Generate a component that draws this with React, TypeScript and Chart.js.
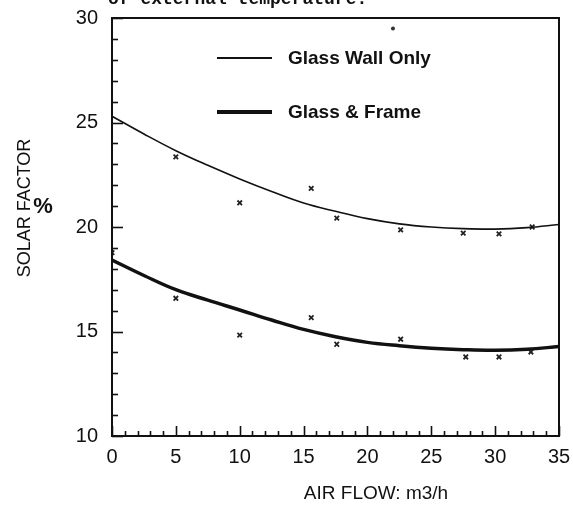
import React, { useEffect, useRef } from "react";
import { Chart, registerables } from "chart.js";

Chart.register(...registerables);

// ---- data ----
const curveX = [0, 2.5, 5, 7.5, 10, 12.5, 15, 17.5, 20, 22.5, 25, 27.5, 30, 32.5, 35];
const glassWallCurve = [25.3, 24.45, 23.65, 22.95, 22.3, 21.7, 21.15, 20.75, 20.4, 20.15, 20.0, 19.92, 19.9, 19.97, 20.12];
const glassFrameCurve = [18.42, 17.68, 17.0, 16.5, 16.03, 15.55, 15.1, 14.75, 14.48, 14.32, 14.2, 14.13, 14.1, 14.15, 14.28];

const glassWallX = [5, 10, 15.6, 17.6, 22.6, 27.5, 30.3, 32.9];
const glassWallY = [23.36, 21.16, 21.85, 20.42, 19.86, 19.71, 19.67, 20.0];
const glassFrameX = [0, 5, 10, 15.6, 17.6, 22.6, 27.7, 30.3, 32.8];
const glassFrameY = [18.77, 16.59, 14.83, 15.66, 14.39, 14.63, 13.78, 13.78, 14.02];
const strayX = [22];
const strayY = [29.5];

const seriesLabels = ["Glass Wall Only", "Glass & Frame"];
const xTitle = "AIR FLOW: m3/h";
const yTitle = "SOLAR FACTOR";
const yUnit = "%";
const topCaption = "of external temperature.";

const X_MIN = 0, X_MAX = 35, X_STEP = 5, X_MINOR = 1;
const Y_MIN = 10, Y_MAX = 30, Y_STEP = 5, Y_MINOR = 1;

const SANS = "'Liberation Sans', Arial, Helvetica, sans-serif";

const toPts = (xs: number[], ys: number[]) => xs.map((x, i) => ({ x, y: ys[i] }));

const decorPlugin = {
  id: "decor",
  afterDraw(chart: any) {
    const { ctx, chartArea, scales } = chart;
    const xs = scales.x;
    const ys = scales.y;
    ctx.save();
    ctx.strokeStyle = "#111";
    ctx.fillStyle = "#111";

    // inward ticks
    ctx.lineWidth = 1.6;
    for (let v = X_MIN; v <= X_MAX; v += X_MINOR) {
      const px = Math.round(xs.getPixelForValue(v)) + 0.5;
      const len = v % X_STEP === 0 ? 10 : 5;
      ctx.beginPath();
      ctx.moveTo(px, chartArea.bottom);
      ctx.lineTo(px, chartArea.bottom - len);
      ctx.stroke();
    }
    for (let v = Y_MIN; v <= Y_MAX; v += Y_MINOR) {
      const py = Math.round(ys.getPixelForValue(v)) + 0.5;
      const len = v % Y_STEP === 0 ? 11 : 6;
      ctx.beginPath();
      ctx.moveTo(chartArea.left, py);
      ctx.lineTo(chartArea.left + len, py);
      ctx.stroke();
    }

    // frame
    ctx.lineWidth = 2;
    ctx.strokeRect(chartArea.left, chartArea.top, chartArea.right - chartArea.left, chartArea.bottom - chartArea.top);

    // legend inside plot
    const ds = chart.data.datasets;
    const legendRows = [
      { y: 58, w: ds[0].borderWidth + 0.5, text: ds[0].label },
      { y: 112, w: ds[1].borderWidth + 0.5, text: ds[1].label },
    ];
    ctx.font = `bold 19px ${SANS}`;
    ctx.textBaseline = "middle";
    ctx.textAlign = "left";
    legendRows.forEach((r) => {
      ctx.lineWidth = r.w;
      ctx.beginPath();
      ctx.moveTo(217, r.y);
      ctx.lineTo(272, r.y);
      ctx.stroke();
      ctx.fillText(r.text, 288, r.y + 1);
    });

    // axis titles
    ctx.font = `19px ${SANS}`;
    ctx.textAlign = "center";
    ctx.textBaseline = "middle";
    ctx.fillText(xTitle, 376, 494);

    ctx.font = `18px ${SANS}`;
    ctx.save();
    ctx.translate(25, 208);
    ctx.rotate(-Math.PI / 2);
    ctx.fillText(yTitle, 0, 0);
    ctx.restore();

    ctx.font = `bold 22px ${SANS}`;
    ctx.fillText(yUnit, 43, 207);

    // clipped caption at the very top
    ctx.font = "bold 18px 'Liberation Mono', 'Courier New', monospace";
    ctx.textAlign = "left";
    ctx.textBaseline = "alphabetic";
    ctx.fillText(topCaption, 108, 4);

    ctx.restore();
  },
};

export default function App() {
  const ref = useRef<HTMLCanvasElement | null>(null);
  useEffect(() => {
    if (!ref.current) return;
    const chart = new Chart(ref.current, {
      type: "scatter",
      data: {
        datasets: [
          {
            label: seriesLabels[0],
            data: toPts(curveX, glassWallCurve),
            showLine: true,
            borderColor: "#111",
            borderWidth: 1.6,
            pointRadius: 0,
            tension: 0.4,
          },
          {
            label: seriesLabels[1],
            data: toPts(curveX, glassFrameCurve),
            showLine: true,
            borderColor: "#111",
            borderWidth: 3.5,
            pointRadius: 0,
            tension: 0.4,
          },
          {
            label: seriesLabels[0] + " (measured)",
            data: toPts(glassWallX, glassWallY),
            showLine: false,
            pointStyle: "crossRot",
            pointRadius: 3.2,
            borderWidth: 1.8,
            borderColor: "#222",
            backgroundColor: "#222",
          },
          {
            label: seriesLabels[1] + " (measured)",
            data: toPts(glassFrameX, glassFrameY),
            showLine: false,
            pointStyle: "crossRot",
            pointRadius: 3.2,
            borderWidth: 1.8,
            borderColor: "#222",
            backgroundColor: "#222",
          },
          {
            label: "mark",
            data: toPts(strayX, strayY),
            showLine: false,
            pointStyle: "circle",
            pointRadius: 2,
            borderWidth: 0,
            backgroundColor: "#333",
          },
        ],
      },
      options: {
        responsive: false,
        animation: false,
        layout: { padding: { left: 0, right: 14, top: 18, bottom: 0 } },
        plugins: {
          legend: { display: false },
          tooltip: { enabled: false },
          title: { display: false },
        },
        scales: {
          x: {
            type: "linear",
            min: X_MIN,
            max: X_MAX,
            ticks: {
              stepSize: X_STEP,
              color: "#111",
              font: { family: SANS, size: 20 },
              padding: 9,
              maxRotation: 0,
            },
            grid: { display: false, drawTicks: false },
            border: { display: false },
            afterFit: (s: any) => {
              s.height = 70;
              s.paddingLeft = 0;
              s.paddingRight = 0;
            },
          },
          y: {
            type: "linear",
            min: Y_MIN,
            max: Y_MAX,
            ticks: {
              stepSize: Y_STEP,
              color: "#111",
              font: { family: SANS, size: 20 },
              padding: 14,
            },
            grid: { display: false, drawTicks: false },
            border: { display: false },
            afterFit: (s: any) => {
              s.width = 112;
              s.paddingTop = 0;
              s.paddingBottom = 0;
            },
          },
        },
      },
      plugins: [decorPlugin],
    } as any);
    return () => chart.destroy();
  }, []);
  return (
    <div style={{ position: "fixed", left: 0, top: 0, width: 573, height: 506, background: "#fff" }}>
      <canvas ref={ref} width={573} height={506} style={{ display: "block" }} />
    </div>
  );
}
